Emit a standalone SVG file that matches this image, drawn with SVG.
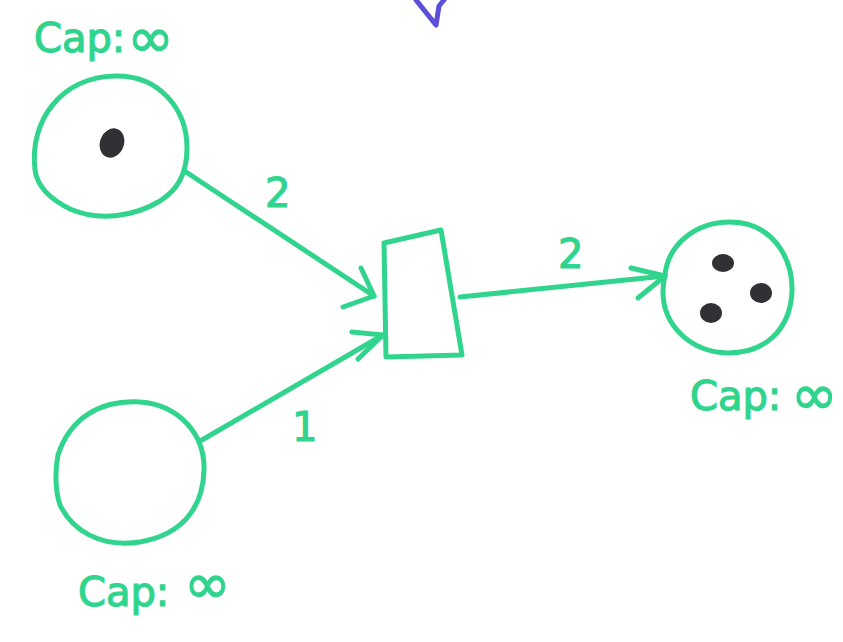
<svg xmlns="http://www.w3.org/2000/svg" width="843" height="642" viewBox="0 0 843 642">
  <style>
    .ink { fill: none; stroke: #30d48c; stroke-width: 5; stroke-linecap: round; stroke-linejoin: round; }
    .token { fill: #2f3134; }
    .lbl { fill: #30d48c; stroke: #30d48c; stroke-width: 1.2; font-family: "DejaVu Sans", "Liberation Sans", sans-serif; }
    .cap { font-size: 40px; }
    .inf { font-size: 56px; }
    .w { font-size: 40px; }
  </style>
  <rect width="843" height="642" fill="#ffffff"/>

  <!-- stray blue pen stroke at the top edge -->
  <path d="M416,0 L436,25 L439,6 L444,0" fill="none" stroke="#5a4fd6" stroke-width="5" stroke-linecap="round" stroke-linejoin="round"/>

  <!-- place: top-left, one token -->
  <g id="place-top-left">
    <path class="ink" d="M35,170 C29,120 62,77 115,76 C160,75 187,110 187,148 C187,175 177,190 160,201 C135,216 100,222 70,209 C50,199 37,186 35,170 Z"/>
    <ellipse class="token" cx="112" cy="143" rx="12" ry="15" transform="rotate(20 112 143)"/>
    <text class="lbl cap" x="34" y="52">Cap:<tspan class="inf" dx="2" dy="5">∞</tspan></text>
  </g>

  <!-- place: bottom-left, empty -->
  <g id="place-bottom-left">
    <path class="ink" d="M58,455 C70,418 100,400 140,402 C180,405 205,435 204,470 C203,510 180,535 140,542 C100,548 72,530 60,505 C55,490 55,470 58,455 Z"/>
    <text class="lbl cap" x="78" y="606">Cap: <tspan class="inf" dx="2" dy="-3">∞</tspan></text>
  </g>

  <!-- transition -->
  <g id="transition">
    <path class="ink" d="M384,243 L441,230 L462,355 L386,357 Z"/>
  </g>

  <!-- place: right, three tokens -->
  <g id="place-right">
    <path class="ink" d="M665,275 C668,245 695,222 730,222 C770,222 793,255 792,292 C790,330 765,353 728,353 C690,352 663,325 663,292 C663,285 664,280 665,275 Z"/>
    <ellipse class="token" cx="723" cy="263" rx="11" ry="9"/>
    <ellipse class="token" cx="761" cy="293" rx="11" ry="10"/>
    <ellipse class="token" cx="711" cy="313" rx="11" ry="10"/>
    <text class="lbl cap" x="690" y="410">Cap: <tspan class="inf" dx="-3" dy="4">∞</tspan></text>
  </g>

  <!-- arcs with weights -->
  <g id="arcs">
    <path class="ink" d="M186,172 L374,296"/>
    <path class="ink" d="M361,268 L374,296 L343,307"/>
    <text class="lbl w" x="265" y="207">2</text>

    <path class="ink" d="M202,440 L383,335"/>
    <path class="ink" d="M352,332 L383,335 L358,359"/>
    <text class="lbl w" x="292" y="441">1</text>

    <path class="ink" d="M460,297 L665,276"/>
    <path class="ink" d="M631,268 L665,276 L638,298"/>
    <text class="lbl w" x="558" y="268">2</text>
  </g>
</svg>
